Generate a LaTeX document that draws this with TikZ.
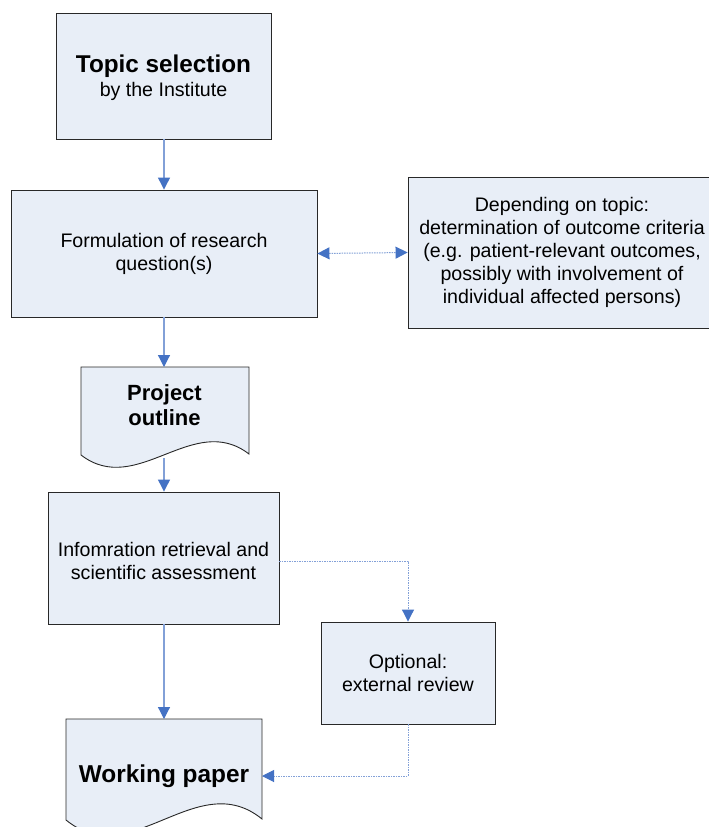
\documentclass[tikz,border=0pt]{standalone}
\usepackage{fontspec}
\setmainfont{Liberation Sans}
\usetikzlibrary{arrows.meta}
\definecolor{boxfill}{RGB}{232,238,247}
\definecolor{boxline}{RGB}{40,40,40}
\definecolor{conline}{RGB}{130,160,215}
\definecolor{tipcol}{RGB}{68,114,196}
\tikzset{
  box/.style={draw=boxline, fill=boxfill, line width=0.9pt, align=center, inner sep=0pt,
    font=\fontsize{19.6}{23}\selectfont},
  doc/.style={draw=boxline, fill=boxfill, line width=0.9pt},
  doctext/.style={align=center, inner sep=0pt},
  flow/.style={draw=conline, line width=1.2pt, -{Triangle[length=12pt,width=12pt,color=tipcol]}},
  dotflow/.style={draw=conline, line width=1pt, dash pattern=on 1.5pt off 1pt, -{Triangle[length=12pt,width=12pt,color=tipcol]}},
  dotboth/.style={draw=conline, line width=1pt, dash pattern=on 1.5pt off 1pt, {Triangle[length=12pt,width=12pt,color=tipcol]}-{Triangle[length=12pt,width=12pt,color=tipcol]}},
}
\begin{document}
\begin{tikzpicture}[x=1pt,y=-1pt]
\useasboundingbox (0,0) rectangle (709,827);
\clip (0,0) rectangle (709,827);
\fill[white] (0,0) rectangle (709,827);

% boxes
\node[box, minimum width=215pt, minimum height=126pt] (topic) at (163.5,76)
  {};
\node[align=center, inner sep=0pt, font=\fontsize{19.6}{23}\selectfont] (topictext) at (163.5,78)
  {{\fontsize{24.3}{28}\selectfont\bfseries Topic selection}\\[1pt]by the Institute};
\node[box, minimum width=306pt, minimum height=127pt] (form) at (164,253.5)
  {Formulation of research\\question(s)};
\node[box, minimum width=308pt, minimum height=151pt] (dep) at (562,252.5)
  {Depending on topic:\\determination of outcome criteria\\(e.g. patient-relevant outcomes,\\possibly with involvement of\\individual affected persons)};
\node[box, minimum width=231pt, minimum height=132pt] (info) at (163.5,558)
  {};
\node[align=center, inner sep=0pt, font=\fontsize{19.6}{23}\selectfont] (infotext) at (163.5,561)
  {Infomration retrieval and\\scientific assessment};
\node[box, minimum width=174pt, minimum height=102pt] (opt) at (408,673)
  {Optional:\\external review};

% project outline document shape
\coordinate (potop) at (164,367);
\coordinate (pobot) at (164,458);
\draw[doc] (81,367) -- (249,367) -- (249,454)
  .. controls (193,411) and (137,498) .. (81,455) -- cycle;
\node[doctext, font=\fontsize{22}{25}\selectfont\bfseries] (po) at (164.5,405) {Project\\outline};

% working paper document shape
\coordinate (wptop) at (164,719);
\coordinate (wpright) at (262,776);
\draw[doc] (66,719) -- (262,719) -- (262,819)
  .. controls (197,766) and (131,873) .. (66,820) -- cycle;
\node[doctext, font=\fontsize{24.4}{28}\selectfont\bfseries] (wp) at (164,776) {Working paper};

% connectors
\draw[flow] (topic.south -| potop) -- (form.north -| potop);
\draw[flow] (form.south -| potop) -- (potop);
\draw[flow] (pobot) -- (info.north -| pobot);
\draw[flow] (info.south -| wptop) -- (wptop);
\draw[dotboth] (form.east) -- (dep.west);
\coordinate (infoR) at (279,561);
\draw[dotflow] (infoR) -| (opt.north);
\draw[dotflow] (opt.south) |- (wpright);
\end{tikzpicture}
\end{document}
